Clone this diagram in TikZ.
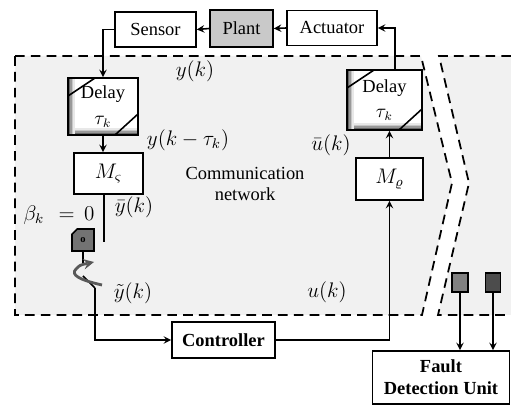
\documentclass[tikz,border=0pt]{standalone}
\usepackage{fontspec}
\setmainfont{Liberation Serif}
\usetikzlibrary{calc,shapes.misc}
\definecolor{netgray}{HTML}{F1F1F1}
\definecolor{plantgray}{HTML}{C9C9C9}
\begin{document}
\begin{tikzpicture}[x=0.02cm,y=-0.02cm,>=stealth,line width=0.9pt,
    every node/.style={font=\fontsize{10.5}{12.5}\selectfont},
    block node/.style={draw,fill=white,inner sep=1pt},
    delay node/.style={block node,align=center,path picture={
        \foreach \d/\c in {1.5/60,3/40,4.5/22,6/9}{
          \draw[black!\c,line width=0.9pt] ($(path picture bounding box.south west)+(\d,0)$) -- ($(path picture bounding box.north west)+(\d,0)$);
          \draw[black!\c,line width=0.9pt] ($(path picture bounding box.south west)+(\d,-\d)$) -- ($(path picture bounding box.south east)+(0,-\d)$);
        }
        \draw ($(path picture bounding box.north west)+(0,18)$) -- ($(path picture bounding box.north west)+(27,0)$);
        \draw ($(path picture bounding box.south east)+(-23,0)$) -- ($(path picture bounding box.south east)+(0,-21)$);}},
    sig node/.style={font=\fontsize{11.5}{13}\selectfont,inner sep=0pt},
    tag node/.style={draw,chamfered rectangle,chamfered rectangle corners=north west,chamfered rectangle xsep=2pt,chamfered rectangle ysep=2pt,inner sep=0pt},
    net line/.style={dash pattern=on 5.5pt off 3.5pt,line width=1pt}]
    \useasboundingbox (0,0) rectangle (511,405);

    % network area
    \fill[netgray] (15,56) -- (421,56) -- (452,183) -- (422,315) -- (15,315) -- cycle;
    \draw[net line] (15,56) -- (421,56) -- (452,183) -- (422,315) -- (15,315) -- cycle;
    \fill[netgray] (439,56) -- (511,56) -- (511,315) -- (438,315) -- (469,183) -- cycle;
    \draw[net line] (511,56) -- (439,56) -- (469,183) -- (438,315) -- (511,315);

    \node[block node,minimum width=1.62cm,minimum height=0.7cm] (sensor) at (155.5,29.5) {Sensor};
    \node[block node,fill=plantgray,minimum width=1.26cm,minimum height=0.74cm] (plant) at (241.5,28.5) {Plant};
    \node[block node,minimum width=1.8cm,minimum height=0.7cm] (actuator) at (332,28) {Actuator};
    \node[delay node,minimum width=1.4cm,minimum height=1.14cm] (delay y) at (103,106.5) {Delay\\[2pt]$\tau_k$};
    \node[block node,font=\fontsize{11.5}{13}\selectfont,minimum width=1.38cm,minimum height=0.82cm] (m sens) at (108.5,173.5) {$M_\varsigma$};
    \node[delay node,minimum width=1.5cm,minimum height=1.2cm] (delay u) at (384.5,100) {Delay\\[2pt]$\tau_k$};
    \node[block node,font=\fontsize{11.5}{13}\selectfont,minimum width=1.34cm,minimum height=0.84cm] (m act) at (389.5,179) {$M_\varrho$};
    \node[block node,font=\fontsize{10.5}{12.5}\selectfont\bfseries,minimum width=2.06cm,minimum height=0.72cm] (controller) at (223.5,340) {Controller};
    \node[block node,font=\fontsize{10.5}{12.5}\selectfont\bfseries,align=center,minimum width=2.74cm,minimum height=1.06cm] (fdu) at (441,377.5) {Fault\\Detection Unit};

    % switch and fault tags
    \node[tag node,fill=black!55,minimum width=0.44cm,minimum height=0.44cm,font=\fontsize{6}{6}\bfseries\selectfont] (switch) at (83,240) {o};
    \node[tag node,fill=black!50,minimum width=0.32cm,minimum height=0.38cm] (tag a) at (460,282.5) {};
    \node[tag node,fill=black!70,minimum width=0.30cm,minimum height=0.38cm] (tag b) at (493,282.5) {};

    \coordinate (ybar end) at (104,242);
    \coordinate (switch pin) at (83,264);
    \coordinate (blade top) at (83,276);
    \coordinate (blade end) at (95,288);
    \coordinate (u out) at (395,70);

    \path[->] (plant.west) edge (sensor.east)
        (actuator.west) edge (plant.east)
        (delay y.south) edge (delay y.south |- m sens.north)
        (m act.north) edge (m act.north |- delay u.south)
        (tag a.south) edge (tag a.south |- fdu.north)
        (tag b.south) edge (tag b.south |- fdu.north);
    \draw[->] (sensor.west) -| (delay y.north);
    \draw[->] (delay u.north -| u out) |- (actuator.east);
    \draw[->] (controller.east) -| (m act.south);
    \draw (m sens.south -| ybar end) -- (ybar end);
    \draw (switch.south) -- (switch pin);
    \draw (blade top) -- (blade end);
    \draw[->] (blade end) |- (controller.west);
    \draw[->,black!65,line width=1.6pt] (102,285) .. controls (80,280) and (70,275) .. (76,269) .. controls (80,265) .. (94,262);

    % signal labels
    \node[sig node] (y lab) at (195,71) {$y(k)$};
    \node[sig node] (yd lab) at (188,140) {$y(k-\tau_k)$};
    \node[align=center] (net lab) at (245,184) {Communication\\network};
    \node[sig node] (ybar lab) at (134,207) {$\bar{y}(k)$};
    \node[sig node] (beta lab) at (59,215) {$\beta_k\ \,=\, 0$};
    \node[sig node] (ytil lab) at (133,293) {$\tilde{y}(k)$};
    \node[sig node] (u lab) at (327,292) {$u(k)$};
    \node[sig node] (ubar lab) at (331,145) {$\bar{u}(k)$};
\end{tikzpicture}
\end{document}
